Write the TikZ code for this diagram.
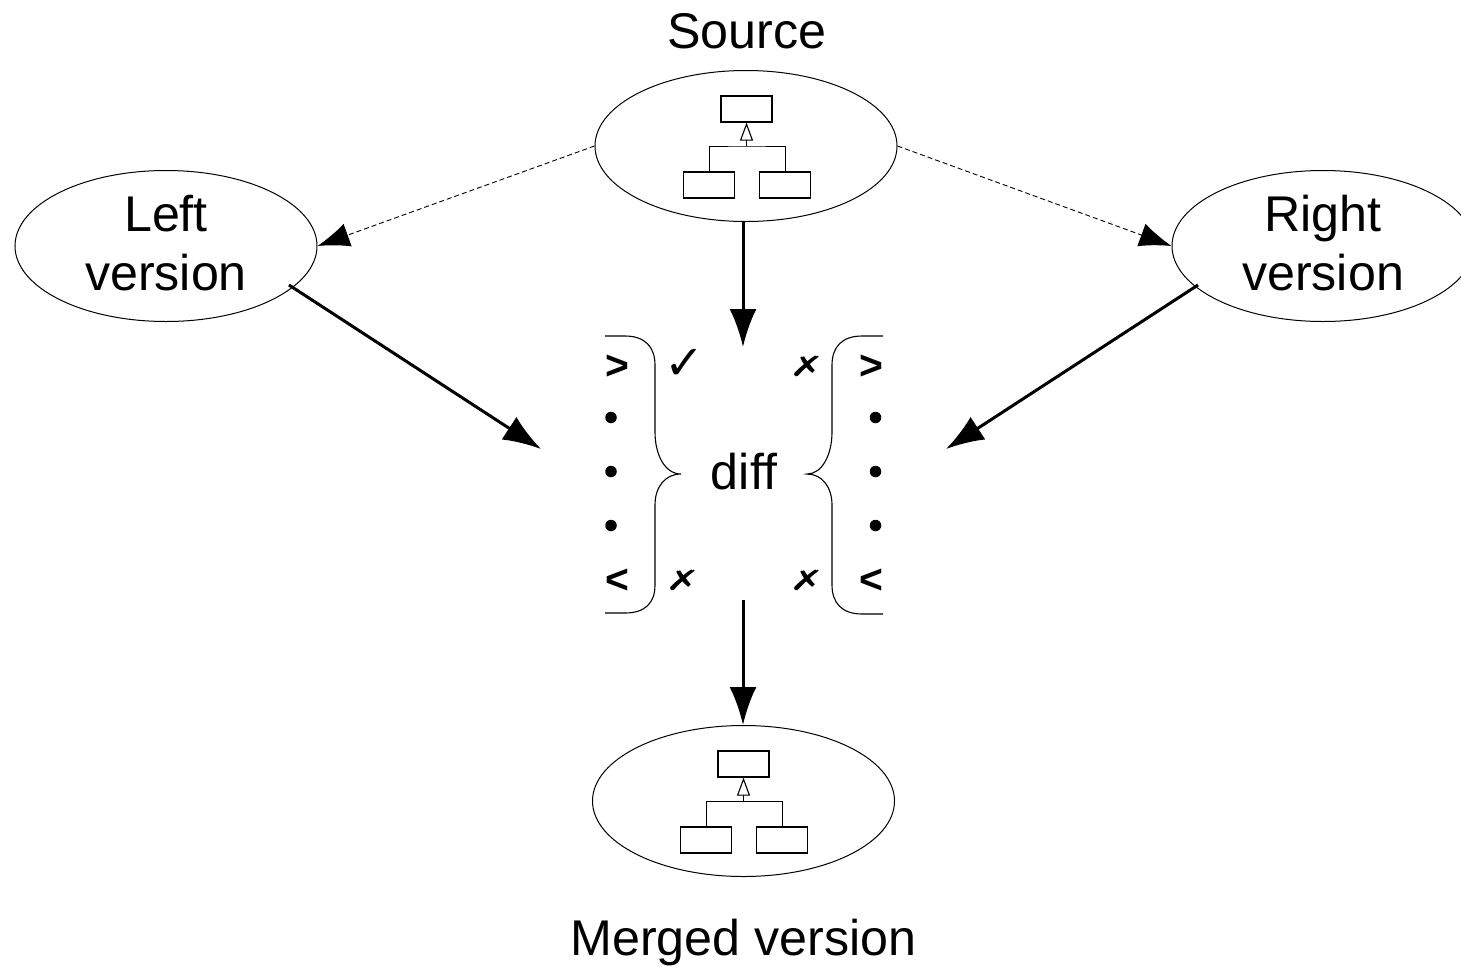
\documentclass[tikz,border=0pt]{standalone}
\usepackage{fontspec}
\setmainfont[Ligatures=NoCommon]{Liberation Sans}
\newfontfamily\symfont{DejaVu Sans}
\usetikzlibrary{arrows.meta,shapes.geometric}
\tikzset{
  x=1bp,y=-1bp,
  blob/.style={draw,ellipse,minimum width=302bp,minimum height=151bp,inner sep=0pt,line width=1bp},
  label/.style={inner sep=0pt,align=center,font=\fontsize{50.4}{60}\selectfont},
  thick arrow/.style={line width=3bp,-{Latex[length=38bp,width=27bp]}},
  thin arrow/.style={dash pattern=on 5bp off 3bp,line width=0.9bp,-{Latex[length=32bp,width=24bp,sep=0bp]}},
  classbox/.style={draw,line width=1.2bp,minimum width=51bp,minimum height=26bp,inner sep=0pt,fill=white},
  brace/.style={line width=1.1bp},
  mark text/.style={inner sep=0pt,font=\bfseries\fontsize{41}{50}\selectfont},
  check text/.style={inner sep=0pt,font=\symfont\fontsize{48}{52}\selectfont},
  cross text/.style={inner sep=0pt,font=\symfont\fontsize{28}{32}\selectfont},
  classtree/.pic={
    \node[classbox] (-a) at (0,-37) {};
    \node[classbox] (-b) at (-37.5,39) {};
    \node[classbox] (-c) at (38.5,39) {};
    \coordinate (-j) at (0,0);
    \draw[line width=1bp] (-b.north) |- (-j) -| (-c.north);
    \draw[line width=1.1bp,-{Triangle[open,fill=white,length=18bp,width=13bp]}] (-j) -- (-a.south);
  }
}
\begin{document}
\begin{tikzpicture}
\useasboundingbox (0,0) rectangle (1461,966);
\clip (0,0) rectangle (1461,966);
\node[blob] (source) at (746,146) {};
\node[blob] (left) at (166,246) {};
\node[blob] (right) at (1323,246) {};
\node[blob] (merged) at (743.5,801) {};
\node[label] (lefttext) at (166,243) {Left\\version};
\node[label] (righttext) at (1323,243) {Right\\version};
\pic (st) at (746.5,146) {classtree};
\pic (mt) at (743.5,801) {classtree};
\node[label] (sourcetext) at (747,31) {Source};
\node[label] (mergedtext) at (743.5,943) {Merged version};
\node[label] (diff) at (744,472) {diff};
\coordinate (topend) at (743,347);
\coordinate (botstart) at (743,600);
\coordinate (lstart) at (289,285);
\coordinate (lend) at (541,449);
\coordinate (rstart) at (1198,285);
\coordinate (rend) at (946,449);
\draw[thin arrow] (source.west) -- (left.east);
\draw[thin arrow] (source.east) -- (right.west);
\draw[thick arrow] (source.south -| topend) -- (topend);
\draw[thick arrow] (lstart) -- (lend);
\draw[thick arrow] (rstart) -- (rend);
\draw[thick arrow] (botstart) -- (merged.north -| botstart);
% braces
\draw[brace] (605,336) -- (625,336) .. controls (645,336) and (655,347) .. (655,365) -- (655,432) .. controls (655,455) and (665,474) .. (681,474) .. controls (665,474) and (655,487) .. (655,505) -- (655,585) .. controls (655,603) and (645,613) .. (625,613) -- (605,613);
\draw[brace] (883,336) -- (862,336) .. controls (842,336) and (832,347) .. (832,365) -- (832,432) .. controls (832,455) and (822,474) .. (807,474) .. controls (822,474) and (832,487) .. (832,505) -- (832,585) .. controls (832,603) and (842,614) .. (862,614) -- (883,614);
% marks
\node[mark text] (lgt) at (617,367) {>};
\node[mark text] (llt) at (617,581) {<};
\node[mark text] (rgt) at (871,367) {>};
\node[mark text] (rlt) at (871,581) {<};
\foreach \n/\y in {1/417.5,2/471.5,3/525.5}{
  \node[circle,fill,inner sep=0pt,minimum size=11.5bp] (ld\n) at (611,\y) {};
  \node[circle,fill,inner sep=0pt,minimum size=11.5bp] (rd\n) at (875.5,\y) {};
}
\node[check text] (chk) at (685,364) {✓};
\node[cross text] (x1) at (807,366) {\scalebox{1.5}[1]{✗}};
\node[cross text] (x2) at (683,580) {\scalebox{1.5}[1]{✗}};
\node[cross text] (x3) at (807,580) {\scalebox{1.5}[1]{✗}};
\end{tikzpicture}
\end{document}
